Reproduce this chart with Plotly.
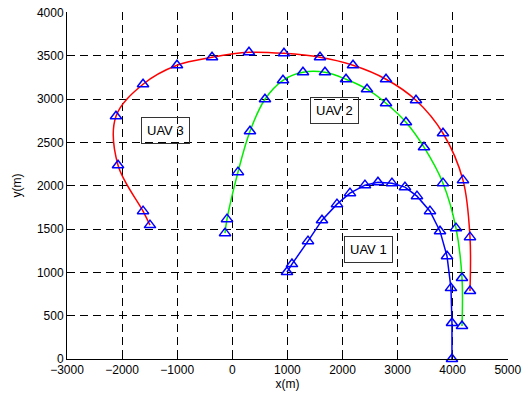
import plotly.graph_objects as go

# UAV 1 (blue)
uav1_x = [993, 1083, 1374, 1628, 1900, 2136, 2408, 2644, 2898, 3134, 3352, 3588, 3770, 3897, 3969, 3987, 3987]
uav1_y = [1003, 1095, 1360, 1602, 1787, 1914, 2006, 2040, 2029, 1983, 1879, 1706, 1475, 1187, 818, 415, 0]

# UAV 2 (green)
uav2_x = [-132, -96, 103, 321, 593, 920, 1283, 1682, 2064, 2445, 2790, 3152, 3479, 3824, 4060, 4169, 4169]
uav2_y = [1452, 1614, 2156, 2628, 2997, 3216, 3308, 3308, 3228, 3113, 2951, 2732, 2444, 2029, 1510, 934, 380]

# UAV 3 (red)
uav3_x = [-1494, -1620, -2074, -2111, -1620, -1004, -368, 303, 938, 1592, 2191, 2790, 3334, 3824, 4187, 4314, 4314]
uav3_y = [1545, 1706, 2236, 2801, 3170, 3389, 3481, 3539, 3527, 3481, 3389, 3228, 2986, 2605, 2064, 1406, 784]

labels = ["UAV 1", "UAV 2", "UAV 3"]
label_x = [2463, 1864, -1221]
label_y = [1268, 2870, 2640]

x_ticks = [-3000, -2000, -1000, 0, 1000, 2000, 3000, 4000, 5000]
y_ticks = [0, 500, 1000, 1500, 2000, 2500, 3000, 3500, 4000]

FONT = "Liberation Sans, Arial, sans-serif"

fig = go.Figure()

def add_path(xs, ys, color, shape):
    fig.add_trace(go.Scatter(x=xs, y=ys, mode="lines",
                             line=dict(color=color, width=1.5, shape=shape),
                             hoverinfo="skip", showlegend=False))

add_path(uav3_x, uav3_y, "#ff0000", "spline")
add_path(uav2_x, uav2_y, "#00ee00", "spline")
add_path(uav1_x, uav1_y, "#0000ff", "linear")

for xs, ys in [(uav3_x, uav3_y), (uav2_x, uav2_y), (uav1_x, uav1_y)]:
    fig.add_trace(go.Scatter(x=xs, y=ys, mode="markers",
                             marker=dict(symbol="triangle-up-open", size=10, color="#0000ff",
                                         line=dict(width=1.5, color="#0000ff")),
                             showlegend=False, cliponaxis=False))

for t, lx, ly in zip(labels, label_x, label_y):
    fig.add_annotation(x=lx, y=ly, text=t, showarrow=False,
                       font=dict(family=FONT, size=13, color="black"),
                       bordercolor="#333333", borderwidth=1, borderpad=5,
                       bgcolor="rgba(0,0,0,0)")

axis_common = dict(showgrid=True, gridcolor="black", griddash="8px,5px", gridwidth=1,
                   showline=True, linecolor="black", linewidth=1, zeroline=False,
                   ticks="inside", ticklen=4, tickcolor="black", automargin=False,
                   tickfont=dict(family=FONT, size=12, color="black"))

fig.update_xaxes(range=[-3000, 5004], tickvals=x_ticks, title=dict(text="x(m)", standoff=0,
                 font=dict(family=FONT, size=12, color="black")), **axis_common)
fig.update_yaxes(range=[0, 4004], tickvals=y_ticks, title=dict(text="y(m)", standoff=12,
                 font=dict(family=FONT, size=12, color="black")), **axis_common)

fig.update_layout(width=524, height=394, margin=dict(l=67, r=16, t=12, b=35),
                  plot_bgcolor="white", paper_bgcolor="white")

fig.write_html("out.html", config={"displayModeBar": False},
               post_script="document.body.style.margin='0';")
